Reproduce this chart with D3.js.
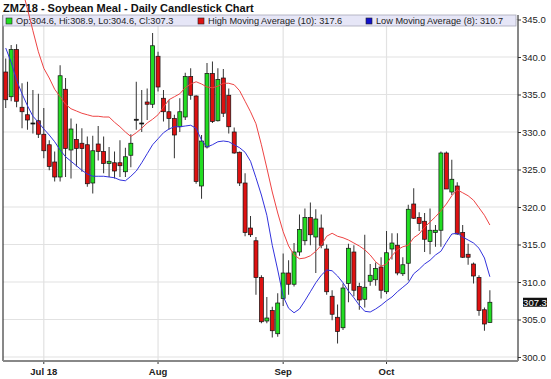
<!DOCTYPE html>
<html>
<head>
<meta charset="utf-8">
<script src="https://cdn.jsdelivr.net/npm/d3@7"></script>
<style>
  body { margin: 0; background: #fff; }
  svg { display: block; font-family: "Liberation Sans", Arial, sans-serif; }
</style>
</head>
<body>
<svg id="chart" width="551" height="379"></svg>
<script>
// ── Données (ZMZ18, séances du 21 juin au 26 oct. 2018) ─────────────
const dates = [
  "2018-06-21","2018-06-22","2018-06-25","2018-06-26","2018-06-27","2018-06-28","2018-06-29",
  "2018-07-02","2018-07-03","2018-07-05","2018-07-06","2018-07-09","2018-07-10","2018-07-11",
  "2018-07-12","2018-07-13","2018-07-16","2018-07-17","2018-07-18","2018-07-19","2018-07-20",
  "2018-07-23","2018-07-24","2018-07-25","2018-07-26","2018-07-27","2018-07-30","2018-07-31",
  "2018-08-01","2018-08-02","2018-08-03","2018-08-06","2018-08-07","2018-08-08","2018-08-09",
  "2018-08-10","2018-08-13","2018-08-14","2018-08-15","2018-08-16","2018-08-17","2018-08-20",
  "2018-08-21","2018-08-22","2018-08-23","2018-08-24","2018-08-27","2018-08-28","2018-08-29",
  "2018-08-30","2018-08-31",
  "2018-09-04","2018-09-05","2018-09-06","2018-09-07","2018-09-10","2018-09-11","2018-09-12",
  "2018-09-13","2018-09-14","2018-09-17","2018-09-18","2018-09-19","2018-09-20","2018-09-21",
  "2018-09-24","2018-09-25","2018-09-26","2018-09-27","2018-09-28",
  "2018-10-01","2018-10-02","2018-10-03","2018-10-04","2018-10-05","2018-10-08","2018-10-09",
  "2018-10-10","2018-10-11","2018-10-12","2018-10-15","2018-10-16","2018-10-17","2018-10-18",
  "2018-10-19","2018-10-22","2018-10-23","2018-10-24","2018-10-25","2018-10-26"
];

const open = [
  338.0, 334.7, 341.0, 333.3, 332.3, 331.2, 331.5, 329.7, 328.3, 326.0,
  324.0, 335.7, 327.6, 329.0, 328.5, 328.3, 323.2, 328.4, 327.4, 325.8,
  325.9, 325.9, 324.7, 326.9, 331.7, 331.2, 334.0, 333.7, 340.1, 334.5,
  332.7, 331.8, 330.7, 332.0, 337.4, 334.8, 322.8, 328.0, 337.8, 331.5,
  337.2, 334.9, 330.0, 327.3, 323.2, 317.2, 315.5, 310.6, 304.8, 306.2,
  303.1, 307.8, 311.2, 309.7, 314.0, 315.5, 318.6, 316.0, 317.2, 314.4,
  308.1, 305.3, 303.9, 309.8, 314.0, 309.4, 307.7, 310.1, 310.3, 312.0,
  308.7, 314.4, 314.9, 311.1, 312.5, 320.4, 318.6, 318.1, 315.4, 316.6,
  316.9, 327.2, 322.0, 322.8, 316.6, 313.7, 312.4, 310.6, 306.3, 304.6
];
const high = [
  339.8, 341.6, 341.7, 336.5, 336.7, 335.6, 335.1, 333.2, 328.9, 327.4,
  338.9, 337.2, 331.8, 331.1, 330.5, 329.4, 329.5, 330.8, 329.4, 328.0,
  327.4, 328.9, 327.9, 329.7, 336.7, 335.6, 335.8, 343.2, 340.7, 335.6,
  334.3, 332.3, 334.5, 337.9, 338.5, 334.9, 329.6, 339.2, 339.4, 338.5,
  338.4, 335.8, 330.6, 327.4, 324.5, 318.8, 316.0, 310.9, 308.0, 306.7,
  308.5, 313.8, 312.9, 315.2, 319.0, 319.8, 320.6, 319.7, 319.0, 315.0,
  308.9, 307.0, 309.8, 315.1, 314.9, 309.9, 316.3, 312.4, 312.6, 313.3,
  316.8, 316.5, 316.5, 313.3, 320.3, 322.5, 319.3, 319.2, 319.8, 317.6,
  327.4, 327.4, 326.3, 323.3, 317.6, 315.1, 312.6, 310.9, 306.6, 308.9
];
const low = [
  333.2, 334.1, 333.3, 330.5, 330.3, 329.8, 329.2, 326.5, 324.9, 323.4,
  323.4, 324.0, 323.8, 325.4, 324.7, 322.7, 321.8, 326.2, 324.5, 324.0,
  323.8, 324.0, 324.0, 325.3, 330.3, 330.0, 331.6, 333.2, 335.4, 331.4,
  330.3, 326.5, 330.0, 331.6, 334.3, 323.1, 321.1, 327.8, 331.2, 331.4,
  332.0, 329.8, 327.1, 322.8, 316.1, 316.0, 308.3, 304.5, 304.5, 302.6,
  302.7, 306.8, 308.3, 309.4, 313.5, 314.9, 314.9, 311.2, 314.5, 308.3,
  304.9, 301.8, 303.6, 307.3, 308.1, 306.3, 306.6, 309.5, 309.5, 307.8,
  308.4, 313.0, 310.9, 310.8, 310.2, 318.4, 316.8, 314.0, 313.7, 314.7,
  314.7, 322.4, 321.6, 316.3, 313.2, 312.3, 309.8, 305.5, 303.5, 304.6
];
const close = [
  334.3, 341.0, 334.1, 332.7, 331.6, 331.2, 329.7, 327.5, 325.4, 324.0,
  337.5, 327.8, 330.4, 327.8, 327.8, 323.1, 327.5, 327.4, 325.8, 326.1,
  324.8, 325.5, 326.7, 328.5, 331.7, 331.2, 333.7, 341.5, 336.0, 332.7,
  331.8, 329.6, 332.7, 337.4, 334.9, 323.4, 328.8, 337.8, 331.4, 337.0,
  332.5, 330.7, 327.2, 323.2, 316.6, 316.3, 310.6, 304.7, 305.2, 303.5,
  307.2, 311.2, 309.7, 314.0, 317.0, 318.6, 316.3, 318.4, 314.9, 308.7,
  305.7, 303.4, 309.2, 314.5, 308.9, 307.6, 309.3, 310.9, 311.8, 308.9,
  313.9, 315.2, 311.2, 312.3, 319.7, 318.5, 317.8, 315.7, 316.9, 316.9,
  327.2, 322.4, 323.7, 316.4, 313.3, 313.3, 310.8, 306.2, 304.4, 307.3
];

// moyennes mobiles (hauts sur 10 séances, bas sur 8)
const highMA = [
  358.9, 355.6, 352.3, 349.2, 346.4, 343.5, 340.7, 338.5, 337.2, 335.7,
  334.7, 333.7, 333.1, 332.8, 332.5, 332.3, 332.1, 332.1, 332.0, 332.0,
  331.3, 330.7, 330.0, 329.4, 329.9, 330.5, 331.2, 331.7, 332.3, 333.3,
  334.3, 334.7, 335.1, 335.9, 336.4, 336.7, 336.4, 336.0, 335.9, 336.1,
  336.5, 336.5, 336.3, 335.5, 334.1, 332.7, 331.1, 328.3, 325.2, 322.0,
  319.2, 316.7, 314.8, 313.6, 313.1, 313.2, 313.5, 314.1, 314.9, 316.1,
  316.5, 316.1, 315.9, 315.6, 315.2, 314.8, 314.3, 313.6, 312.7, 312.1,
  312.4, 313.5, 314.3, 314.7, 314.9, 315.9, 316.4, 317.3, 318.0, 318.7,
  319.5, 320.4, 321.5, 322.3, 321.9, 321.5, 320.9, 319.9, 318.9, 317.6
];
const lowMA = [
  341.2, 339.3, 336.9, 335.1, 333.5, 332.1, 331.3, 330.4, 329.6, 328.7,
  327.6, 326.7, 326.1, 325.5, 324.9, 324.4, 324.1, 324.1, 324.1, 324.0,
  323.9, 323.6, 323.5, 324.1, 324.8, 325.9, 327.1, 328.3, 329.1, 329.9,
  330.4, 330.7, 330.7, 330.8, 330.9, 330.5, 328.9, 328.0, 328.3, 328.7,
  328.8, 328.7, 328.3, 327.9, 327.3, 326.1, 323.9, 321.6, 318.9, 314.9,
  311.6, 308.1, 306.5, 305.9, 306.4, 307.5, 308.7, 309.9, 310.9, 311.6,
  311.5, 310.8, 309.9, 308.8, 307.9, 306.9, 306.1, 306.0, 306.4, 306.9,
  307.5, 308.0, 308.7, 309.3, 309.9, 311.1, 311.7, 312.4, 312.9, 313.6,
  314.1, 315.3, 316.4, 316.5, 316.0, 315.6, 315.2, 314.5, 313.2, 310.7
];

const yTicks = [300, 305, 310, 315, 320, 325, 330, 335, 340, 345];
const monthTicks = ["2018-07-02", "2018-08-01", "2018-09-04", "2018-10-01"];
const monthLabels = ["Jul 18", "Aug", "Sep", "Oct"];

// ── Mise en page ────────────────────────────────────────────────────
const C_UP = '#22dd22', C_DOWN = '#dd1111', C_HMA = '#ee4444', C_LMA = '#3333dd';
const L = 3, R = 518, T = 15, B = 361;
const step = 5.44;

const svg = d3.select('#chart');

const x = d3.scaleBand().domain(dates).range([L, L + step * dates.length]).padding(0);
const cx = d => x(d) + x.bandwidth() / 2;
const y = d3.scaleLinear().domain([300, 345]).range([357, 19.5]);

const data = dates.map((d, i) => ({ d, o: open[i], h: high[i], l: low[i], c: close[i] }));

// grille
svg.append('g').selectAll('line').data(yTicks).join('line')
  .attr('x1', L).attr('x2', R)
  .attr('y1', d => y(d)).attr('y2', d => y(d))
  .attr('stroke', '#e2e2e2').attr('stroke-width', 1.2);
svg.append('g').selectAll('line').data(monthTicks).join('line')
  .attr('x1', cx).attr('x2', cx)
  .attr('y1', T).attr('y2', B)
  .attr('stroke', '#e2e2e2').attr('stroke-width', 1.2);

// cadre
svg.append('line').attr('x1', L).attr('x2', L).attr('y1', T).attr('y2', B)
  .attr('stroke', '#111').attr('stroke-width', 1);
svg.append('line').attr('x1', R).attr('x2', R).attr('y1', T).attr('y2', B)
  .attr('stroke', '#111').attr('stroke-width', 1);
svg.append('line').attr('x1', L).attr('x2', R).attr('y1', B).attr('y2', B)
  .attr('stroke', '#888').attr('stroke-width', 2);

// axe des prix (droite)
svg.append('g').attr('transform', `translate(${R},0)`)
  .call(d3.axisRight(y).tickValues(yTicks).tickSize(3).tickPadding(1).tickFormat(d3.format('.1f')))
  .call(g => g.select('.domain').remove())
  .call(g => g.selectAll('line').attr('stroke', '#333'))
  .selectAll('text').attr('fill', '#222').attr('font-size', 9.5)
  .attr('font-family', '"Liberation Sans", Arial, sans-serif');

// axe des dates
svg.append('g').attr('transform', `translate(0,${B + 1})`)
  .call(d3.axisBottom(x).tickValues(monthTicks).tickSize(2).tickPadding(4)
    .tickFormat((d, i) => monthLabels[i]))
  .call(g => g.select('.domain').remove())
  .call(g => g.selectAll('line').attr('stroke', '#333'))
  .selectAll('text').attr('fill', '#222').attr('font-size', 9.5).attr('font-weight', 'bold')
  .attr('font-family', '"Liberation Sans", Arial, sans-serif');

// titre
svg.append('text').attr('x', 3).attr('y', 12)
  .attr('font-size', 11).attr('font-weight', 'bold').attr('fill', '#111')
  .text('ZMZ18 - Soybean Meal - Daily Candlestick Chart');

// légende
const last = data[data.length - 1];
const legend = svg.append('g');
legend.append('rect').attr('x', L).attr('y', T).attr('width', 513).attr('height', 11)
  .attr('fill', '#e6e6f7').attr('stroke', '#a8a8b8').attr('stroke-width', 0.8);
const items = [
  { x: 6,   color: C_UP,     label: `Op:${last.o.toFixed(1)}, Hi:${last.h.toFixed(1)}, Lo:${last.l.toFixed(1)}, Cl:${last.c.toFixed(1)}` },
  { x: 198, color: '#dd1111', label: `High Moving Average (10): ${highMA[highMA.length - 1].toFixed(1)}` },
  { x: 366, color: '#1111cc', label: `Low Moving Average (8): ${lowMA[lowMA.length - 1].toFixed(1)}` },
];
items.forEach(it => {
  legend.append('rect').attr('x', it.x).attr('y', 18).attr('width', 6).attr('height', 6)
    .attr('fill', it.color).attr('stroke', '#222').attr('stroke-width', 0.6);
  legend.append('text').attr('x', it.x + 10).attr('y', 24.3)
    .attr('font-size', 9.2).attr('fill', '#222').text(it.label);
});

// chandeliers
const candles = svg.append('g');
candles.selectAll('.wick').data(data).join('line')
  .attr('class', 'wick')
  .attr('x1', d => cx(d.d)).attr('x2', d => cx(d.d))
  .attr('y1', d => y(d.h)).attr('y2', d => y(d.l))
  .attr('stroke', '#333').attr('stroke-width', 1);
candles.selectAll('.body').data(data).join('rect')
  .attr('class', 'body')
  .attr('x', d => cx(d.d) - 2)
  .attr('y', d => y(Math.max(d.o, d.c)))
  .attr('width', 4)
  .attr('height', d => Math.max(1, Math.abs(y(d.o) - y(d.c))))
  .attr('fill', d => d.c > d.o ? C_UP : d.c < d.o ? C_DOWN : '#111')
  .attr('stroke', '#111').attr('stroke-width', 0.7);

// moyennes mobiles
const line = d3.line().x((v, i) => cx(dates[i])).y(v => y(v));
svg.append('path').datum(highMA).attr('d', line)
  .attr('fill', 'none').attr('stroke', C_HMA).attr('stroke-width', 1);
svg.append('path').datum(lowMA).attr('d', line)
  .attr('fill', 'none').attr('stroke', C_LMA).attr('stroke-width', 1);

// dernier cours
const lastY = y(last.c);
svg.append('rect').attr('x', R + 5).attr('y', lastY - 4.5).attr('width', 24).attr('height', 9)
  .attr('fill', '#111');
svg.append('text').attr('x', R + 17).attr('y', lastY).attr('dy', '0.35em')
  .attr('text-anchor', 'middle').attr('font-size', 9.5).attr('fill', '#fff')
  .text(last.c.toFixed(1));
</script>
</body>
</html>
